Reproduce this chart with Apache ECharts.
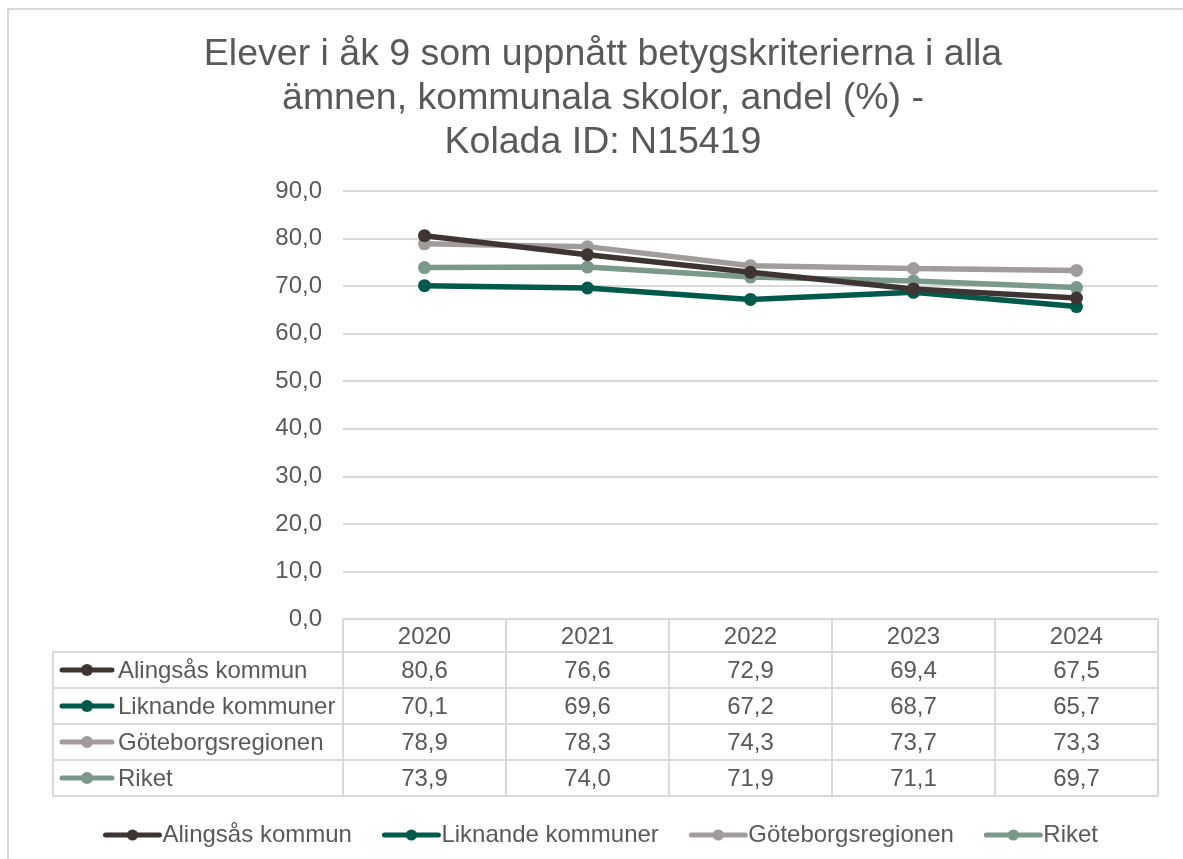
<!DOCTYPE html>
<html>
<head>
<meta charset="utf-8">
<title>Elever i åk 9 - Kolada N15419</title>
<script src="https://cdn.jsdelivr.net/npm/echarts@6/dist/echarts.min.js"></script>
<style>
    html, body { margin: 0; padding: 0; background: #fff; }
    #chartMain { width: 1183px; height: 859px; }
</style>
</head>
<body>
<div id="chartMain"></div>
<script>
    // data
    const years = ['2020', '2021', '2022', '2023', '2024'];
    const seriesNames = ['Alingsås kommun', 'Liknande kommuner', 'Göteborgsregionen', 'Riket'];
    const alingsas = [80.6, 76.6, 72.9, 69.4, 67.5];
    const liknande = [70.1, 69.6, 67.2, 68.7, 65.7];
    const goteborg = [78.9, 78.3, 74.3, 73.7, 73.3];
    const riket = [73.9, 74.0, 71.9, 71.1, 69.7];
    const seriesData = [alingsas, liknande, goteborg, riket];
    const colors = ['#3e3533', '#005a4b', '#a09c9b', '#7b998b'];

    const W = 1183, H = 859;
    const plot = { left: 343, right: 1158, top: 191, bottom: 619 };
    const tableLeft = 53;
    const headerH = 33;
    const rowH = 36;
    const gridColor = '#d9d9d9';
    const textColor = '#595959';
    const font = 'Arial, "Liberation Sans", sans-serif';
    const fs = 24;

    const fmt = v => v.toFixed(1).replace('.', ',');

    // data table below the plot, built from the arrays
    function buildTable() {
        const els = [];
        const colW = (plot.right - plot.left) / years.length;
        const rowsTop = plot.bottom + headerH;
        const tableBottom = rowsTop + rowH * seriesNames.length;
        const line = (x1, y1, x2, y2) => ({
            type: 'line', silent: true,
            shape: { x1, y1, x2, y2 },
            style: { stroke: gridColor, lineWidth: 2 }
        });
        // vertical lines
        for (let i = 0; i <= years.length; i++) {
            const x = plot.left + i * colW;
            els.push(line(x, plot.bottom, x, tableBottom));
        }
        els.push(line(tableLeft, rowsTop, tableLeft, tableBottom));
        // horizontal lines
        for (let r = 0; r <= seriesNames.length; r++) {
            const y = rowsTop + r * rowH;
            els.push(line(tableLeft, y, plot.right, y));
        }
        // cells
        seriesNames.forEach((name, r) => {
            const cy = rowsTop + r * rowH + rowH / 2;
            els.push({
                type: 'line', silent: true,
                shape: { x1: 62, y1: cy, x2: 112, y2: cy },
                style: { stroke: colors[r], lineWidth: 5, lineCap: 'round' }
            });
            els.push({
                type: 'circle', silent: true,
                shape: { cx: 87, cy: cy, r: 6 },
                style: { fill: colors[r] }
            });
            els.push({
                type: 'text', silent: true,
                style: { x: 118, y: cy + 1, text: name, fill: textColor, font: fs + 'px ' + font, verticalAlign: 'middle' }
            });
            seriesData[r].forEach((v, c) => {
                els.push({
                    type: 'text', silent: true,
                    style: {
                        x: plot.left + c * colW + colW / 2, y: cy + 1, text: fmt(v),
                        fill: textColor, font: fs + 'px ' + font, align: 'center', verticalAlign: 'middle'
                    }
                });
            });
        });
        // outer chart border
        els.push({
            type: 'rect', silent: true,
            shape: { x: 8, y: 9, width: W + 20, height: H + 20 },
            style: { fill: 'none', stroke: gridColor, lineWidth: 2 }
        });
        return els;
    }

    const myChart = echarts.init(document.getElementById('chartMain'), null, { renderer: 'canvas' });

    myChart.setOption({
        animation: false,
        backgroundColor: '#fff',
        color: colors,
        textStyle: { fontFamily: font, color: textColor },
        title: {
            text: 'Elever i åk 9 som uppnått betygskriterierna i alla\nämnen, kommunala skolor, andel (%) -\nKolada ID: N15419',
            left: 598, top: 28, textAlign: 'center',
            textStyle: { fontSize: 37.5, fontWeight: 'normal', color: textColor, lineHeight: 44, fontFamily: font }
        },
        legend: {
            data: seriesNames,
            left: 98, top: 818,
            itemWidth: 54, itemHeight: 14, itemGap: 30,
            lineStyle: { width: 5, cap: 'round' },
            textStyle: { fontSize: fs, color: textColor, fontFamily: font, padding: [2, 0, 0, -2] }
        },
        grid: {
            left: plot.left, right: W - plot.right, top: plot.top, bottom: H - plot.bottom,
            containLabel: false
        },
        xAxis: {
            type: 'category',
            data: years,
            boundaryGap: true,
            axisLine: { lineStyle: { color: gridColor, width: 2 } },
            axisTick: { show: false },
            axisLabel: { fontSize: fs, color: textColor, margin: 6, fontFamily: font }
        },
        yAxis: {
            type: 'value',
            min: 0, max: 90, interval: 10,
            axisLine: { show: false },
            axisTick: { show: false },
            axisLabel: { fontSize: fs, color: textColor, margin: 21, formatter: v => fmt(v), fontFamily: font },
            splitLine: { lineStyle: { color: gridColor, width: 2 } }
        },
        series: seriesNames.map((name, i) => ({
            name: name,
            type: 'line',
            data: seriesData[i],
            symbol: 'circle',
            symbolSize: 13,
            lineStyle: { width: 5.5, color: colors[i] },
            itemStyle: { color: colors[i] },
            z: 2 + (i === 0 ? 1 : 0)
        })),
        graphic: buildTable()
    });
</script>
</body>
</html>
